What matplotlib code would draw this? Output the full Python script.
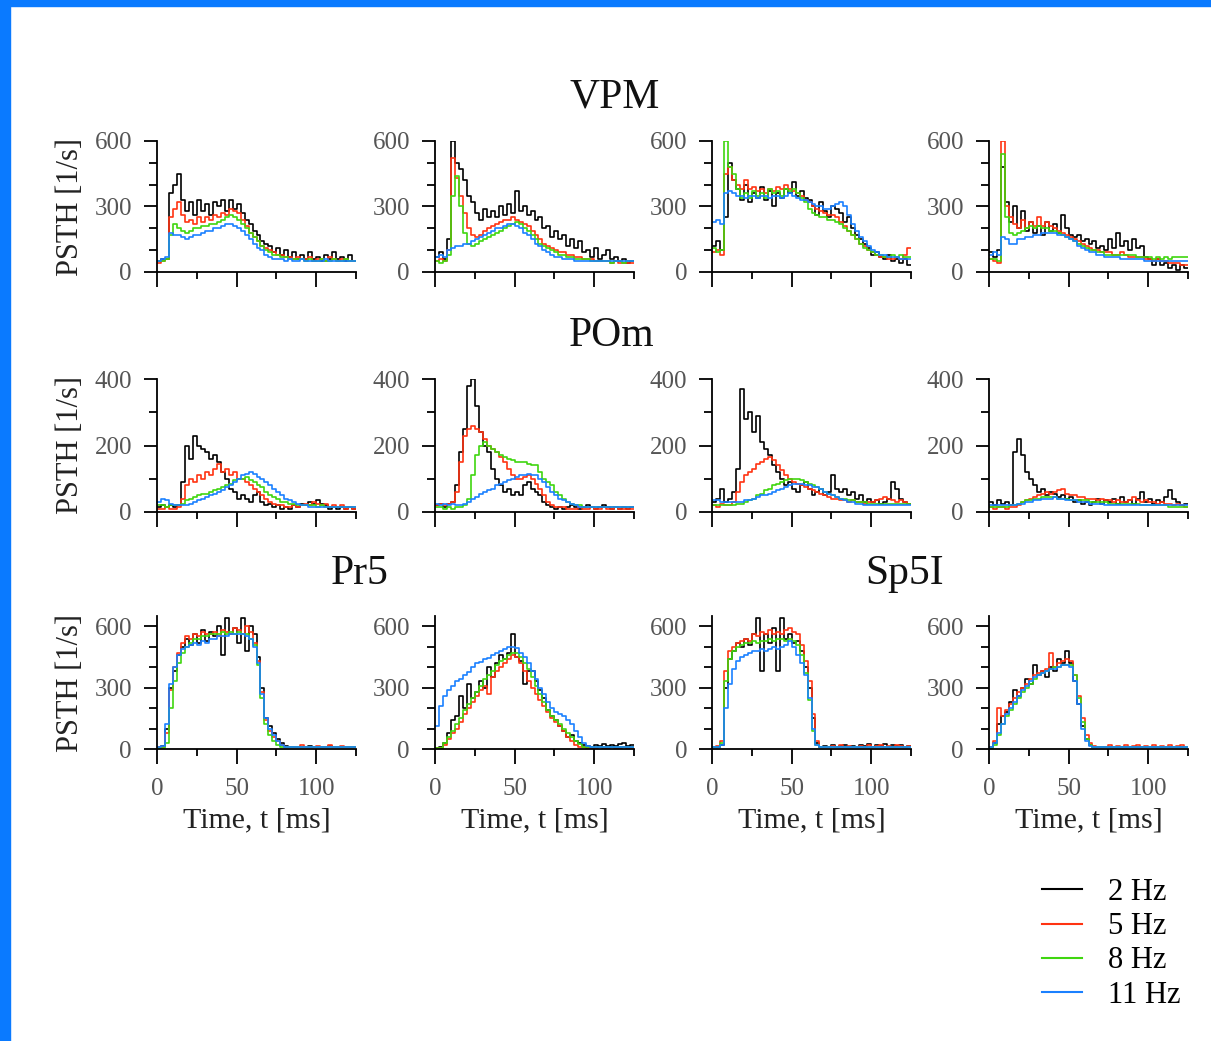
# psth_grid.py
# PSTH responses of VPM, POm, Pr5 and Sp5I cells to whisker deflection
# at four stimulation frequencies, 2.5 ms bins drawn as steps

import numpy as np
import matplotlib.pyplot as plt
from matplotlib.patches import Rectangle

plt.rcParams['font.family'] = ['Liberation Serif', 'DejaVu Serif']

BIN = 2.5   # ms
freqs = ['2 Hz', '5 Hz', '8 Hz', '11 Hz']
colors = ['#000000', '#ff3312', '#3fd60f', '#1a80ff']

# each panel: rates [1/s] for 2, 5, 8, 11 Hz
vpm_1 = [
    [50, 60, 60, 360, 400, 450, 330, 280, 320, 260, 330, 280, 310, 260, 320, 300, 330, 280, 330, 290,
     310, 270, 240, 220, 190, 170, 140, 130, 120, 90, 110, 80, 100, 70, 90, 60, 80, 60, 90, 60,
     70, 50, 80, 60, 90, 60, 70, 50, 80, 50],
    [40, 50, 60, 250, 290, 320, 260, 230, 240, 220, 250, 230, 250, 240, 260, 250, 270, 260, 290, 280,
     270, 240, 210, 180, 160, 140, 120, 110, 100, 90, 80, 80, 70, 70, 60, 70, 60, 60, 70, 50,
     60, 60, 50, 70, 60, 50, 60, 60, 50, 50],
    [50, 50, 60, 170, 220, 200, 190, 180, 190, 200, 200, 210, 210, 220, 220, 230, 240, 250, 260, 250,
     240, 220, 200, 180, 160, 140, 120, 100, 90, 80, 80, 70, 70, 60, 60, 60, 60, 50, 60, 50,
     50, 60, 50, 50, 60, 50, 50, 60, 50, 50],
    [50, 60, 70, 180, 170, 170, 160, 150, 160, 170, 170, 180, 190, 190, 200, 200, 210, 220, 220, 210,
     200, 190, 170, 150, 130, 110, 100, 80, 70, 60, 60, 60, 50, 60, 50, 50, 60, 50, 50, 50,
     50, 50, 60, 50, 50, 50, 50, 50, 50, 50],
]
vpm_2 = [
    [70, 90, 60, 150, 600, 500, 470, 420, 350, 320, 270, 240, 290, 250, 280, 250, 300, 260, 310, 270,
     370, 280, 300, 260, 280, 240, 250, 200, 210, 160, 190, 150, 170, 120, 150, 110, 140, 90, 100, 70,
     110, 60, 80, 100, 60, 70, 50, 60, 40, 50],
    [50, 60, 50, 100, 520, 430, 350, 270, 200, 170, 160, 170, 190, 200, 210, 220, 230, 240, 240, 250,
     240, 230, 220, 210, 190, 170, 150, 130, 120, 110, 100, 90, 90, 80, 80, 70, 70, 60, 60, 60,
     50, 50, 50, 50, 40, 50, 40, 40, 40, 40],
    [50, 40, 50, 80, 350, 440, 300, 180, 130, 120, 130, 140, 150, 160, 170, 180, 190, 200, 210, 220,
     230, 220, 200, 190, 170, 150, 130, 120, 110, 100, 90, 80, 80, 70, 70, 60, 60, 60, 60, 50,
     50, 50, 50, 50, 40, 50, 50, 40, 50, 50],
    [70, 80, 70, 100, 110, 120, 120, 130, 130, 140, 150, 160, 170, 180, 190, 200, 200, 210, 220, 220,
     210, 200, 180, 170, 150, 130, 120, 100, 90, 80, 70, 70, 60, 60, 60, 50, 50, 50, 50, 50,
     50, 50, 50, 50, 50, 50, 50, 50, 50, 50],
]
vpm_3 = [
    [120, 140, 100, 250, 500, 420, 380, 330, 400, 320, 360, 340, 390, 330, 370, 300, 360, 340, 380, 360,
     410, 350, 370, 340, 330, 300, 260, 320, 280, 250, 300, 290, 270, 230, 250, 200, 170, 150, 130, 110,
     80, 90, 70, 60, 80, 50, 60, 40, 60, 30],
    [90, 100, 80, 450, 480, 420, 400, 380, 420, 380, 390, 370, 380, 360, 380, 370, 390, 380, 400, 380,
     370, 360, 350, 330, 320, 300, 290, 280, 270, 260, 260, 250, 230, 210, 190, 170, 150, 130, 120, 100,
     90, 80, 70, 70, 60, 60, 70, 60, 80, 110],
    [110, 90, 100, 600, 480, 450, 380, 340, 360, 340, 370, 350, 360, 340, 380, 360, 370, 350, 380, 370,
     380, 360, 340, 320, 290, 270, 260, 250, 250, 240, 240, 230, 220, 200, 190, 170, 150, 130, 110, 100,
     90, 80, 80, 70, 70, 80, 70, 80, 70, 70],
    [230, 240, 220, 360, 370, 360, 350, 350, 340, 350, 350, 340, 350, 350, 340, 350, 350, 340, 350, 360,
     350, 340, 330, 330, 320, 310, 300, 300, 290, 290, 300, 310, 320, 300, 260, 220, 190, 160, 140, 120,
     100, 90, 80, 80, 70, 70, 70, 60, 60, 60],
]
vpm_4 = [
    [90, 70, 100, 480, 320, 230, 300, 200, 280, 190, 230, 180, 210, 170, 230, 190, 220, 180, 260, 200,
     170, 160, 170, 140, 150, 130, 140, 110, 120, 100, 150, 110, 180, 120, 140, 100, 150, 110, 120, 70,
     60, 30, 60, 30, 40, 20, 30, 10, 30, 20],
    [60, 50, 40, 600, 300, 250, 220, 200, 240, 200, 230, 210, 250, 210, 230, 210, 200, 190, 180, 170,
     160, 150, 140, 130, 120, 110, 100, 100, 90, 90, 90, 80, 80, 90, 80, 70, 70, 70, 70, 60,
     60, 50, 60, 50, 50, 40, 40, 40, 30, 30],
    [60, 60, 50, 540, 250, 180, 170, 180, 190, 200, 210, 200, 210, 200, 200, 190, 190, 180, 170, 160,
     150, 140, 130, 120, 110, 100, 100, 90, 90, 80, 80, 80, 80, 80, 80, 80, 80, 70, 70, 70,
     70, 60, 70, 60, 70, 60, 70, 70, 70, 70],
    [80, 90, 80, 160, 150, 130, 130, 150, 150, 160, 160, 170, 170, 180, 180, 180, 180, 170, 170, 160,
     150, 140, 120, 110, 100, 90, 90, 80, 80, 70, 70, 70, 70, 60, 60, 60, 60, 60, 60, 50,
     50, 50, 50, 50, 50, 50, 50, 50, 50, 50],
]

pom_1 = [
    [15, 20, 15, 20, 15, 20, 90, 200, 160, 230, 200, 190, 180, 160, 170, 150, 120, 100, 70, 60,
     40, 50, 40, 30, 50, 60, 30, 20, 25, 15, 20, 10, 15, 10, 20, 15, 25, 20, 30, 25,
     35, 25, 20, 10, 15, 10, 15, 10, 15, 10],
    [10, 10, 15, 10, 10, 15, 40, 80, 100, 90, 110, 100, 120, 110, 130, 145, 120, 130, 110, 120,
     100, 100, 90, 80, 70, 60, 50, 40, 30, 25, 20, 20, 15, 15, 20, 15, 20, 25, 20, 30,
     25, 20, 25, 15, 20, 15, 20, 10, 15, 10],
    [20, 20, 15, 20, 20, 20, 25, 35, 40, 45, 50, 55, 55, 60, 65, 70, 75, 80, 85, 95,
     100, 100, 105, 95, 90, 80, 75, 60, 50, 45, 40, 30, 30, 25, 25, 20, 20, 20, 20, 20,
     15, 20, 15, 15, 15, 15, 15, 15, 15, 15],
    [30, 40, 35, 25, 20, 20, 20, 20, 25, 30, 35, 40, 45, 50, 55, 60, 65, 75, 80, 90,
     100, 110, 115, 120, 115, 105, 100, 90, 80, 70, 60, 50, 40, 35, 30, 25, 20, 20, 15, 15,
     15, 15, 15, 15, 15, 15, 15, 15, 15, 15],
]
pom_2 = [
    [20, 25, 15, 25, 30, 80, 180, 250, 380, 400, 320, 240, 200, 180, 130, 100, 80, 60, 70, 50,
     60, 50, 80, 90, 70, 60, 50, 30, 20, 15, 10, 15, 10, 15, 20, 15, 10, 15, 20, 15,
     10, 15, 20, 15, 10, 15, 10, 15, 10, 15],
    [20, 25, 20, 25, 30, 60, 150, 230, 250, 260, 250, 240, 220, 200, 190, 180, 165, 150, 130, 110,
     100, 100, 105, 110, 100, 85, 70, 50, 30, 20, 15, 15, 15, 10, 10, 10, 15, 10, 10, 15,
     10, 10, 15, 10, 10, 15, 10, 10, 10, 10],
    [15, 15, 10, 15, 10, 15, 15, 20, 40, 110, 170, 200, 210, 200, 190, 180, 170, 165, 160, 155,
     150, 150, 150, 145, 140, 140, 120, 100, 90, 80, 60, 50, 40, 30, 25, 20, 20, 15, 15, 15,
     15, 15, 15, 15, 15, 15, 15, 15, 15, 15],
    [25, 20, 25, 20, 25, 20, 20, 25, 30, 40, 45, 55, 60, 65, 70, 80, 85, 90, 95, 100,
     105, 110, 110, 115, 110, 110, 100, 90, 75, 60, 50, 40, 35, 30, 25, 20, 15, 15, 15, 15,
     15, 15, 15, 15, 15, 15, 15, 15, 15, 15],
]
pom_3 = [
    [30, 40, 70, 30, 40, 60, 130, 370, 280, 300, 240, 290, 210, 190, 170, 140, 120, 100, 80, 90,
     70, 60, 80, 90, 70, 50, 60, 70, 50, 60, 110, 70, 60, 70, 50, 60, 40, 50, 30, 40,
     30, 35, 25, 30, 40, 90, 70, 40, 30, 25],
    [20, 15, 25, 20, 20, 30, 60, 90, 110, 120, 130, 145, 150, 160, 165, 155, 140, 125, 110, 100,
     90, 85, 80, 75, 70, 65, 60, 55, 50, 45, 40, 40, 35, 35, 30, 35, 30, 30, 25, 30,
     30, 35, 40, 45, 40, 35, 30, 35, 30, 25],
    [20, 20, 20, 20, 20, 20, 25, 25, 30, 35, 40, 50, 55, 65, 70, 80, 85, 90, 95, 100,
     100, 100, 95, 90, 85, 80, 75, 70, 60, 55, 50, 45, 40, 40, 35, 35, 30, 30, 30, 25,
     25, 25, 25, 25, 25, 25, 25, 25, 25, 25],
    [35, 35, 30, 30, 30, 30, 30, 30, 35, 35, 40, 45, 50, 50, 55, 60, 65, 70, 75, 80,
     85, 85, 85, 80, 80, 75, 75, 70, 60, 55, 50, 45, 40, 35, 30, 30, 25, 25, 20, 20,
     20, 20, 20, 20, 20, 20, 20, 20, 20, 20],
]
pom_4 = [
    [30, 20, 35, 25, 30, 20, 180, 220, 170, 120, 100, 80, 60, 70, 50, 60, 55, 45, 50, 40,
     45, 30, 35, 25, 30, 20, 30, 40, 25, 35, 30, 40, 25, 45, 30, 35, 25, 40, 60, 30,
     40, 25, 35, 30, 45, 65, 40, 30, 20, 25],
    [15, 10, 15, 15, 10, 15, 15, 20, 30, 35, 40, 45, 50, 55, 60, 55, 60, 65, 70, 55,
     50, 50, 45, 45, 40, 40, 40, 35, 40, 35, 35, 30, 35, 30, 30, 35, 45, 35, 30, 35,
     30, 30, 25, 30, 25, 25, 20, 25, 20, 15],
    [15, 15, 15, 15, 15, 20, 20, 25, 30, 35, 35, 40, 40, 45, 45, 45, 45, 40, 40, 40,
     35, 35, 35, 35, 35, 30, 30, 30, 30, 30, 25, 25, 25, 25, 25, 25, 25, 25, 20, 20,
     20, 20, 20, 20, 20, 15, 15, 15, 15, 15],
    [20, 20, 20, 20, 20, 20, 20, 25, 25, 30, 30, 35, 35, 40, 40, 40, 45, 40, 40, 35,
     35, 35, 30, 30, 30, 25, 25, 25, 25, 20, 20, 20, 20, 20, 20, 20, 20, 20, 20, 20,
     20, 20, 20, 20, 20, 20, 20, 20, 20, 20],
]

pr5_1 = [
    [10, 15, 100, 300, 380, 460, 500, 540, 510, 560, 520, 580, 530, 570, 550, 600, 460, 640, 560, 590,
     520, 640, 480, 600, 560, 450, 300, 150, 110, 80, 50, 30, 15, 10, 8, 12, 8, 10, 15, 8,
     10, 12, 8, 15, 10, 8, 12, 10, 8, 10],
    [8, 10, 80, 290, 400, 470, 520, 550, 540, 560, 550, 570, 560, 560, 570, 550, 580, 570, 560, 590,
     580, 560, 600, 570, 520, 430, 280, 140, 90, 60, 40, 20, 10, 8, 10, 8, 20, 10, 8, 10,
     15, 8, 10, 20, 8, 10, 15, 8, 10, 8],
    [5, 5, 30, 200, 330, 420, 470, 500, 520, 540, 540, 550, 550, 560, 560, 560, 570, 560, 570, 560,
     570, 560, 560, 540, 510, 410, 250, 120, 70, 40, 20, 10, 8, 8, 8, 8, 8, 8, 8, 8,
     8, 8, 8, 8, 8, 8, 8, 8, 8, 8],
    [10, 15, 120, 320, 400, 460, 490, 500, 510, 520, 510, 530, 520, 540, 540, 550, 550, 550, 560, 560,
     560, 560, 550, 540, 500, 420, 270, 150, 100, 70, 40, 20, 10, 8, 8, 8, 8, 8, 8, 8,
     8, 8, 8, 8, 8, 8, 8, 8, 8, 8],
]
pr5_2 = [
    [3, 10, 30, 80, 140, 160, 260, 200, 320, 250, 280, 330, 300, 400, 350, 420, 460, 440, 470, 560,
     450, 430, 320, 380, 380, 330, 290, 250, 190, 160, 140, 110, 90, 60, 70, 40, 30, 20, 15, 10,
     20, 15, 25, 15, 20, 15, 25, 30, 15, 20],
    [3, 5, 20, 50, 80, 100, 130, 170, 200, 230, 260, 290, 310, 270, 350, 380, 400, 420, 440, 460,
     450, 420, 380, 330, 300, 270, 240, 210, 180, 150, 130, 110, 90, 60, 40, 20, 10, 8, 5, 5,
     5, 8, 5, 5, 8, 5, 5, 8, 5, 5],
    [3, 5, 30, 60, 90, 120, 150, 190, 220, 250, 280, 310, 340, 360, 380, 410, 430, 440, 460, 470,
     470, 450, 420, 390, 350, 310, 270, 230, 190, 160, 140, 120, 100, 80, 60, 40, 25, 12, 8, 8,
     8, 8, 8, 8, 8, 8, 8, 8, 8, 8],
    [110, 210, 260, 290, 310, 330, 340, 360, 375, 400, 420, 425, 440, 445, 460, 470, 480, 490, 500, 500,
     495, 470, 450, 420, 380, 340, 300, 270, 230, 200, 180, 170, 160, 140, 120, 90, 60, 30, 15, 10,
     10, 10, 10, 10, 10, 10, 10, 10, 10, 10],
]
sp5i_1 = [
    [10, 10, 20, 300, 440, 480, 520, 500, 540, 510, 560, 640, 380, 560, 520, 590, 380, 640, 540, 560,
     520, 530, 480, 400, 300, 150, 30, 10, 15, 10, 20, 10, 15, 20, 10, 15, 10, 20, 15, 25,
     10, 20, 15, 25, 10, 20, 15, 20, 10, 15],
    [10, 15, 40, 380, 480, 500, 520, 530, 540, 530, 560, 550, 570, 560, 580, 560, 570, 560, 580, 590,
     570, 560, 510, 430, 330, 170, 40, 10, 8, 10, 15, 10, 20, 10, 15, 10, 8, 15, 10, 20,
     10, 15, 20, 10, 15, 10, 20, 15, 10, 15],
    [8, 8, 30, 330, 440, 480, 500, 510, 520, 520, 530, 520, 530, 530, 540, 530, 540, 540, 530, 540,
     530, 510, 460, 370, 240, 90, 20, 10, 8, 8, 8, 8, 8, 8, 8, 8, 8, 8, 8, 8,
     8, 8, 8, 8, 8, 8, 8, 8, 8, 8],
    [10, 10, 20, 200, 320, 390, 430, 450, 460, 470, 480, 480, 490, 480, 490, 500, 490, 500, 510, 530,
     500, 460, 420, 360, 250, 100, 20, 10, 8, 8, 8, 8, 8, 8, 8, 8, 8, 8, 8, 8,
     8, 8, 8, 8, 8, 8, 8, 8, 8, 8],
]
sp5i_2 = [
    [10, 30, 120, 160, 180, 230, 290, 260, 300, 340, 320, 410, 360, 380, 350, 400, 380, 440, 420, 480,
     420, 330, 220, 110, 50, 20, 10, 8, 10, 8, 8, 10, 8, 10, 8, 10, 8, 10, 8, 10,
     8, 10, 8, 10, 8, 10, 8, 10, 8, 10],
    [10, 40, 200, 160, 190, 220, 250, 280, 300, 320, 340, 360, 370, 380, 390, 470, 400, 420, 430, 440,
     430, 360, 260, 150, 70, 30, 15, 10, 8, 10, 20, 10, 15, 10, 20, 10, 15, 20, 10, 15,
     10, 20, 10, 15, 10, 20, 10, 15, 20, 10],
    [5, 20, 70, 120, 160, 190, 220, 250, 280, 300, 320, 340, 360, 370, 380, 390, 400, 400, 410, 410,
     410, 360, 250, 130, 50, 20, 10, 8, 8, 8, 8, 8, 8, 8, 8, 8, 8, 8, 8, 8,
     8, 8, 8, 8, 8, 8, 8, 8, 8, 8],
    [10, 30, 80, 120, 170, 200, 230, 260, 290, 310, 330, 350, 360, 370, 380, 390, 390, 400, 410, 410,
     400, 330, 220, 100, 40, 15, 10, 8, 8, 8, 8, 8, 8, 8, 8, 8, 8, 8, 8, 8,
     8, 8, 8, 8, 8, 8, 8, 8, 8, 8],
]

rows = [
    [vpm_1, vpm_2, vpm_3, vpm_4],
    [pom_1, pom_2, pom_3, pom_4],
    [pr5_1, pr5_2, sp5i_1, sp5i_2],
]
row_ylim = [600, 400, 650]
row_major = [[0, 300, 600], [0, 200, 400], [0, 300, 600]]
row_minor = [[100, 200, 400, 500], [100, 300], [100, 200, 400, 500]]

W, H = 1211, 1041
fig = plt.figure(figsize=(W / 100, H / 100), dpi=100)

# axes placement in pixels: spine x position, bottom spine y, height
col_x = [157, 435, 712, 989]
ax_w = 199
row_bottom = [272, 512, 749]
row_h = [131, 133, 133]

tick_grey = '#555555'
label_col = '#222222'

last_lines = []
for r, panels in enumerate(rows):
    for c, traces in enumerate(panels):
        ax = fig.add_axes([col_x[c] / W, 1 - row_bottom[r] / H, ax_w / W, row_h[r] / H])
        for vals, col in zip(traces, colors):
            t = np.arange(len(vals) + 1) * BIN
            y = np.r_[vals, vals[-1]]
            ln, = ax.plot(t, y, drawstyle='steps-post', color=col, lw=1.2)
            if r == 2 and c == 3:
                last_lines.append(ln)
        ax.set_xlim(0, 125)
        ax.set_ylim(0, row_ylim[r])
        ax.set_xticks([0, 50, 100])
        ax.set_xticks([25, 75, 125], minor=True)
        ax.set_yticks(row_major[r])
        ax.set_yticks(row_minor[r], minor=True)
        for s in ['top', 'right']:
            ax.spines[s].set_visible(False)
        for s in ['left', 'bottom']:
            ax.spines[s].set_linewidth(1.3)
        ax.tick_params(axis='both', which='both', direction='out', width=1.3,
                       labelsize=18, labelcolor=tick_grey)
        ax.tick_params(axis='x', which='major', length=11, pad=10)
        ax.tick_params(axis='x', which='minor', length=5)
        ax.tick_params(axis='y', which='major', length=9.5, pad=8.5)
        ax.tick_params(axis='y', which='minor', length=6)
        ax.patch.set_alpha(0)
        if r < 2:
            ax.tick_params(axis='x', labelbottom=False)
        else:
            ax.set_xlabel('Time, t [ms]', fontsize=21.5, color=label_col, labelpad=5)
        if c == 0:
            ax.set_ylabel('PSTH [1/s]', fontsize=22, color=label_col, labelpad=7)

# region names above each row
for name, x, y in [('VPM', 615, 107), ('POm', 612, 346), ('Pr5', 360, 584), ('Sp5I', 905, 584)]:
    fig.text(x / W, 1 - y / H, name, fontsize=30, ha='center', va='baseline', color='#111111')

fig.legend(last_lines, freqs, loc='upper left', bbox_to_anchor=(1042 / W, 1 - 878 / H),
           frameon=False, fontsize=22, handlelength=1.3, handletextpad=0.85,
           labelspacing=0.17, borderpad=0, borderaxespad=0)
for h in fig.legends[0].legend_handles:
    h.set_linewidth(1.5)

# blue frame along the left and top edges
fig.patches.append(Rectangle((0, 0), 10 / W, 1, transform=fig.transFigure,
                             color='#0a7aff', zorder=10))
fig.patches.append(Rectangle((0, 1 - 6 / H), 1, 6 / H, transform=fig.transFigure,
                             color='#0a7aff', zorder=10))

plt.savefig('out.png', dpi=100)
